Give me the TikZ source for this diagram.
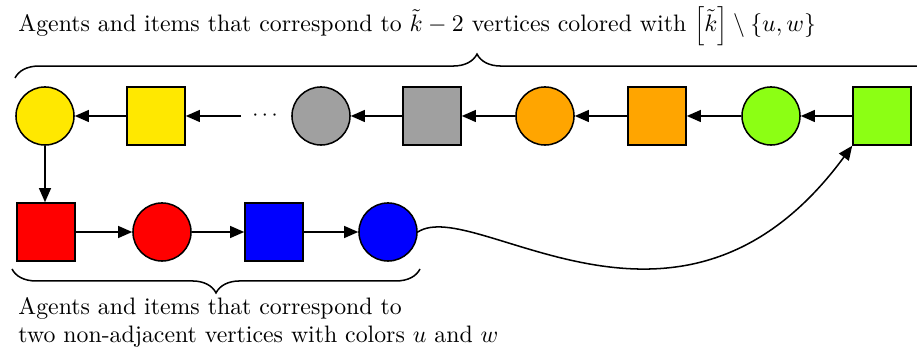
\documentclass[tikz,border=0pt]{standalone}
\usetikzlibrary{arrows.meta,decorations.pathreplacing}
\definecolor{cyel}{HTML}{FFE800}
\definecolor{cgray}{HTML}{A0A0A0}
\definecolor{corange}{HTML}{FFA500}
\definecolor{cgreen}{HTML}{8CFF14}
\begin{document}
\begin{tikzpicture}[x=0.46pt,y=-0.46pt,
  agent/.style={circle,draw=black,line width=0.7pt,minimum size=26.7pt,inner sep=0pt},
  item/.style={rectangle,draw=black,line width=0.7pt,minimum size=26.7pt,inner sep=0pt},
  arr/.style={line width=0.7pt,-{Triangle[length=6.5pt,width=5.5pt]}},
  brc/.style={decorate,decoration={brace,amplitude=11pt},line width=0.7pt},
  lbl/.style={inner sep=0pt,font=\fontsize{10.95}{12.9}\selectfont}]
\useasboundingbox (0,0) rectangle (917,354);
% top row
\node[agent,fill=cyel] (yc) at (45,116) {};
\node[item,fill=cyel] (ys) at (156,116) {};
\node[inner sep=0pt] (dots) at (265,116) {$\cdots$};
\node[agent,fill=cgray] (gc) at (321,116) {};
\node[item,fill=cgray] (gys) at (432,116) {};
\node[agent,fill=corange] (oc) at (545,116) {};
\node[item,fill=corange] (os) at (657,116) {};
\node[agent,fill=cgreen] (lc) at (771,116) {};
\node[item,fill=cgreen] (ls) at (882,116) {};
% bottom row
\node[item,fill=red] (rs) at (46,232) {};
\node[agent,fill=red] (rc) at (162,232) {};
\node[item,fill=blue] (bs) at (274,232) {};
\node[agent,fill=blue] (bc) at (388,232) {};
% arrows
\draw[arr] (ls) -- (lc);
\draw[arr] (lc) -- (os);
\draw[arr] (os) -- (oc);
\draw[arr] (oc) -- (gys);
\draw[arr] (gys) -- (gc);
\draw[arr] ([xshift=-5pt]dots.west) -- (ys);
\draw[arr] (ys) -- (yc);
\draw[arr] (yc) -- (yc |- rs.north);
\draw[arr] (rs) -- (rc);
\draw[arr] (rc) -- (bs);
\draw[arr] (bs) -- (bc);
\draw[arr] (bc.east) .. controls (475,195) and (680,380) .. (ls.south west);
% braces
\coordinate (tb1) at (15,78);
\coordinate (tb2) at (939,78);
\draw[brc] (tb1) -- (tb2);
\coordinate (bb1) at (420,269);
\coordinate (bb2) at (12,269);
\draw[brc] (bb1) -- (bb2);
% labels
\node[lbl,anchor=base west] (tt) at (18,32) {Agents and items that correspond to $\tilde{k}-2$ vertices colored with $\left[\tilde{k}\right]\setminus\{u,w\}$};
\node[lbl,anchor=base west,align=left] (bt) at (18,343) {Agents and items that correspond to\\two non-adjacent vertices with colors $u$ and $w$};
\end{tikzpicture}
\end{document}
